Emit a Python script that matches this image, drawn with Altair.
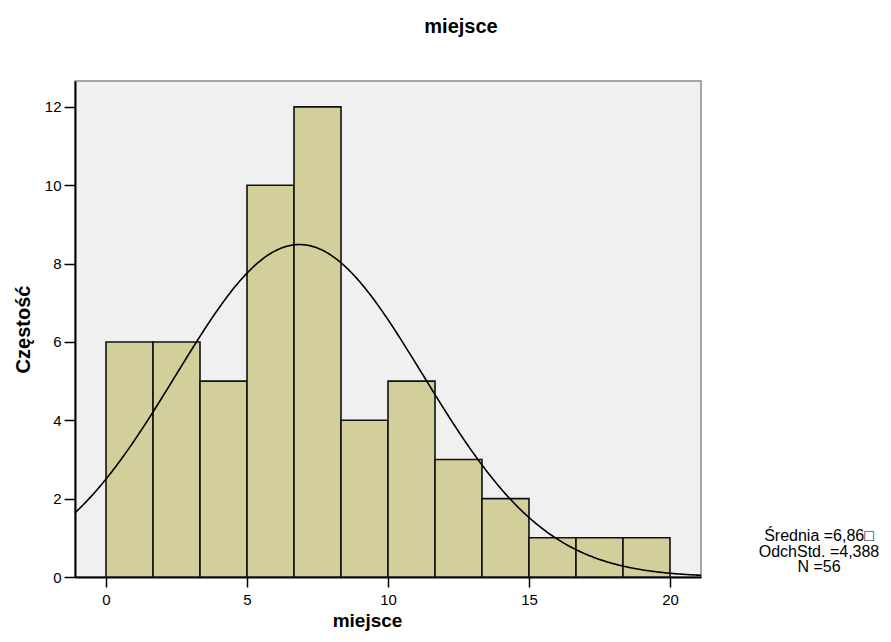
import altair as alt
import pandas as pd

# ---- data ----
bin_starts = [0, 1.667, 3.333, 5, 6.667, 8.333, 10, 11.667, 13.333, 15, 16.667, 18.333]
bin_ends = [1.667, 3.333, 5, 6.667, 8.333, 10, 11.667, 13.333, 15, 16.667, 18.333, 20]
counts = [6, 6, 5, 10, 12, 4, 5, 3, 2, 1, 1, 1]

mean_val = 6.86
sd_val = 4.388
n_val = 56
bin_width = 20 / 12

stats_lines = ["Średnia =6,86\u25a1", "OdchStd. =4,388", "N =56"]

x_ticks = [0, 5, 10, 15, 20]
y_ticks = [0, 2, 4, 6, 8, 10, 12]
x_domain = [-1.1, 21.1]
y_domain = [0, 12.66]

FONT = "Liberation Sans"

bars_df = pd.DataFrame({"start": bin_starts, "end": bin_ends, "count": counts})

x_scale = alt.Scale(domain=x_domain, nice=False, zero=False)
y_scale = alt.Scale(domain=y_domain, nice=False)

bars = alt.Chart(bars_df).mark_rect(
    fill="#d3cf9a", stroke="#111111", strokeWidth=1.6
).encode(
    x=alt.X("start:Q", scale=x_scale,
            axis=alt.Axis(values=x_ticks, title="miejsce", grid=False,
                          tickSize=10, tickWidth=1.5, tickColor="black",
                          domainColor="black", domainWidth=2,
                          labelFont=FONT, labelFontSize=15, labelColor="black",
                          labelPadding=5, labelFlush=False,
                          titleFont=FONT, titleFontSize=19, titleFontWeight="bold",
                          titleColor="black", titleX=292, titleY=34,
                          titleAlign="center", titleBaseline="top")),
    x2="end:Q",
    y=alt.Y("count:Q", scale=y_scale,
            axis=alt.Axis(values=y_ticks, title="Częstość", grid=False,
                          tickSize=11, tickWidth=1.5, tickColor="black",
                          domainColor="black", domainWidth=2,
                          labelFont=FONT, labelFontSize=15, labelColor="black",
                          labelPadding=3, labelFlush=False,
                          titleFont=FONT, titleFontSize=20, titleFontWeight="bold",
                          titleColor="black", titleAngle=270, titleX=-52, titleY=248,
                          titleAlign="center", titleBaseline="middle")),
    y2=alt.datum(0),
)

curve = alt.Chart(alt.sequence(start=x_domain[0], stop=x_domain[1] + 0.05, step=0.05, as_="xv")).transform_calculate(
    dens=f"{n_val} * {bin_width} * densityNormal(datum.xv, {mean_val}, {sd_val})"
).mark_line(color="black", strokeWidth=1.6, clip=True).encode(
    x=alt.X("xv:Q", scale=x_scale),
    y=alt.Y("dens:Q", scale=y_scale),
)

stats_df = pd.DataFrame({"txt": ["\n".join(stats_lines)]})
stats = alt.Chart(stats_df).mark_text(
    font=FONT, fontSize=16, align="center", baseline="top",
    lineBreak="\n", lineHeight=15.5, color="black"
).encode(
    text="txt:N",
    x=alt.value(744),
    y=alt.value(447),
)

chart = alt.layer(bars, curve, stats).properties(
    width=626,
    height=496,
    title=alt.TitleParams("miejsce", font=FONT, fontSize=20, fontWeight="bold",
                          color="black", anchor="middle", frame="group",
                          dx=73, offset=44),
    autosize=alt.AutoSizeParams(type="none"),
    padding={"left": 67, "top": 73, "right": 182, "bottom": 54},
).configure_view(
    fill="#f0f0f0", stroke="#8a8a8a", strokeWidth=1.5
)

chart.save("out.html", embed_options={"renderer": "svg", "actions": False})
